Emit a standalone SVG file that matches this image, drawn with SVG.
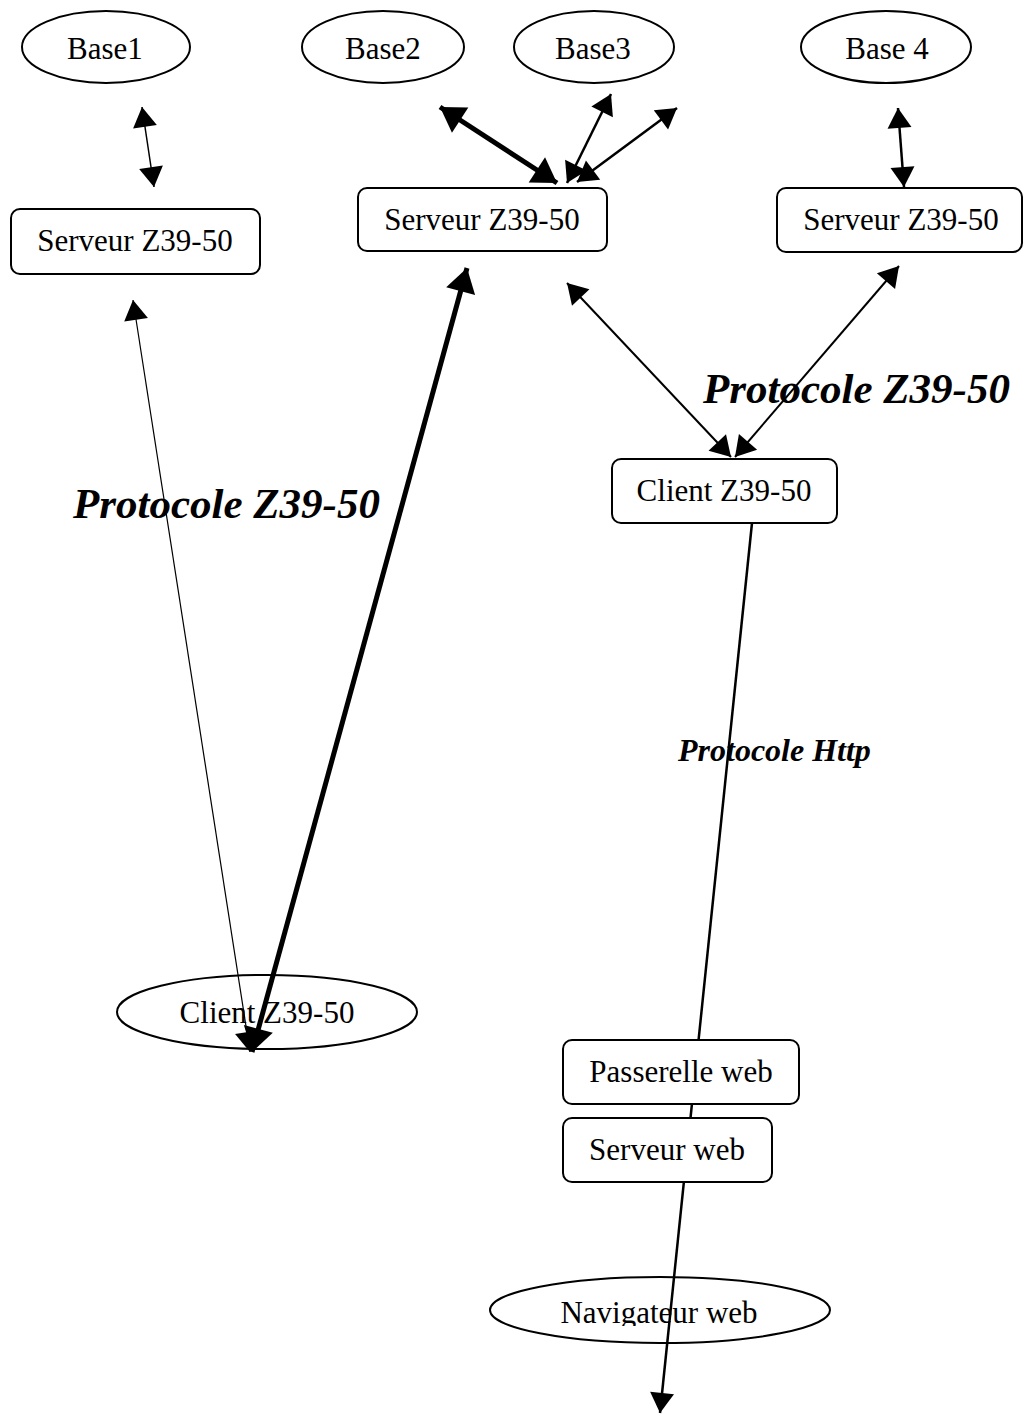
<svg xmlns="http://www.w3.org/2000/svg" width="1026" height="1414" viewBox="0 0 1026 1414">
<style>
  .shape { fill: #fff; stroke: #000; stroke-width: 2; }
  .lbl { font-family: "Liberation Serif", "Times New Roman", serif; font-size: 31px; fill: #000; text-anchor: middle; }
  .proto { font-family: "Liberation Serif", "Times New Roman", serif; font-weight: bold; font-style: italic; fill: #000; }
  .edge { fill: none; stroke: #000; }
</style>
<defs>
  <marker id="ah" markerUnits="userSpaceOnUse" markerWidth="20" markerHeight="24" refX="20" refY="12" orient="auto-start-reverse" overflow="visible">
    <path d="M0,0 L20,12 L0,24 z" fill="#000"/>
  </marker>
  <marker id="ahb" markerUnits="userSpaceOnUse" markerWidth="24" markerHeight="30" refX="24" refY="15" orient="auto-start-reverse" overflow="visible">
    <path d="M0,0 L24,15 L0,30 z" fill="#000"/>
  </marker>
  <clipPath id="navclip"><rect x="480" y="1270" width="360" height="56"/></clipPath>
</defs>
<rect width="1026" height="1414" fill="#fff"/>

<g id="base1"><ellipse class="shape" cx="106" cy="47" rx="84" ry="36"/><text class="lbl" x="105" y="59">Base1</text></g>
<g id="base2"><ellipse class="shape" cx="383" cy="47" rx="81" ry="36"/><text class="lbl" x="383" y="59">Base2</text></g>
<g id="base3"><ellipse class="shape" cx="594" cy="47" rx="80" ry="36"/><text class="lbl" x="593" y="59">Base3</text></g>
<g id="base4"><ellipse class="shape" cx="886" cy="47" rx="85" ry="36"/><text class="lbl" x="887" y="59">Base 4</text></g>
<g id="client-ellipse"><ellipse class="shape" cx="267" cy="1012" rx="150" ry="37"/><text class="lbl" x="267" y="1023">Client Z39-50</text></g>
<g id="navigateur"><ellipse class="shape" cx="660" cy="1310" rx="170" ry="33"/><text class="lbl" x="659" y="1323" clip-path="url(#navclip)">Navigateur web</text></g>

<g id="connectors">
  <line class="edge" x1="142" y1="107" x2="154" y2="187" stroke-width="1.5" marker-start="url(#ah)" marker-end="url(#ah)"/>
  <line class="edge" x1="440" y1="107" x2="557" y2="183" stroke-width="5" marker-start="url(#ahb)" marker-end="url(#ahb)"/>
  <line class="edge" x1="611" y1="94" x2="567" y2="183" stroke-width="2.5" marker-start="url(#ah)" marker-end="url(#ah)"/>
  <line class="edge" x1="677" y1="108" x2="577" y2="182" stroke-width="2.5" marker-start="url(#ah)" marker-end="url(#ah)"/>
  <line class="edge" x1="898" y1="108" x2="904" y2="187" stroke-width="2.5" marker-start="url(#ah)" marker-end="url(#ah)"/>
  <line class="edge" x1="133" y1="300" x2="250" y2="1052" stroke-width="1.2" marker-start="url(#ah)" marker-end="url(#ah)"/>
  <line class="edge" x1="467" y1="268" x2="252" y2="1052" stroke-width="5" marker-start="url(#ahb)" marker-end="url(#ahb)"/>
  <line class="edge" x1="567" y1="283" x2="731" y2="457" stroke-width="2" marker-start="url(#ah)" marker-end="url(#ah)"/>
  <line class="edge" x1="899" y1="266" x2="735" y2="457" stroke-width="2" marker-start="url(#ah)" marker-end="url(#ah)"/>
  <line class="edge" x1="752" y1="523" x2="660" y2="1413" stroke-width="2.5" marker-end="url(#ah)"/>
</g>

<g id="serveur1"><rect class="shape" x="11" y="209" width="249" height="65" rx="9"/><text class="lbl" x="135" y="251">Serveur Z39-50</text></g>
<g id="serveur2"><rect class="shape" x="358" y="188" width="249" height="63" rx="9"/><text class="lbl" x="482" y="230">Serveur Z39-50</text></g>
<g id="serveur3"><rect class="shape" x="777" y="188" width="245" height="64" rx="9"/><text class="lbl" x="901" y="230">Serveur Z39-50</text></g>
<g id="client-rect"><rect class="shape" x="612" y="459" width="225" height="64" rx="9" stroke-width="1.5"/><text class="lbl" x="724" y="501">Client Z39-50</text></g>
<g id="passerelle"><rect class="shape" x="563" y="1040" width="236" height="64" rx="9"/><text class="lbl" x="681" y="1082">Passerelle web</text></g>
<g id="serveur-web"><rect class="shape" x="563" y="1118" width="209" height="64" rx="9"/><text class="lbl" x="667" y="1160">Serveur web</text></g>

<g id="labels">
  <text class="proto" x="73" y="518" font-size="43">Protocole Z39-50</text>
  <text class="proto" x="703" y="403" font-size="43">Protocole Z39-50</text>
  <text class="proto" x="678" y="761" font-size="32">Protocole Http</text>
</g>
</svg>
